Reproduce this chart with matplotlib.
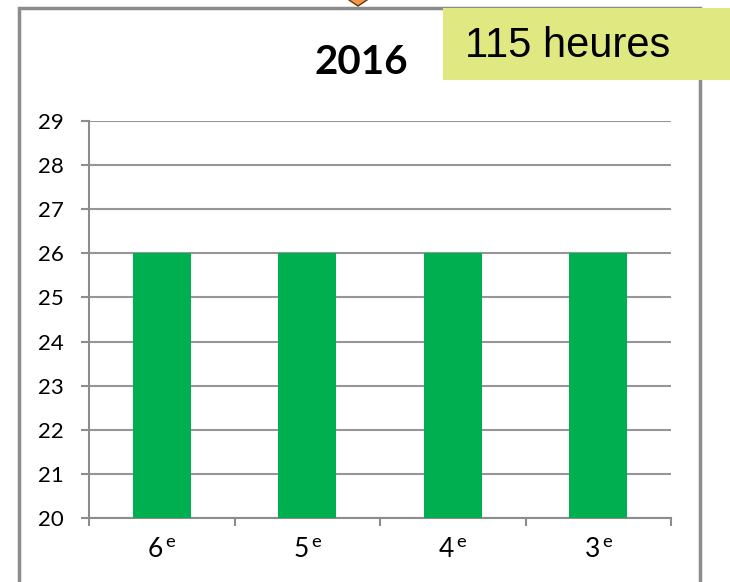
import matplotlib
matplotlib.use("Agg")
import matplotlib.pyplot as plt
from matplotlib.patches import Rectangle, Polygon
import numpy as np

# Data
categories = ["6", "5", "4", "3"]
suffix = "e"
values = [26, 26, 26, 26]
yticks = list(range(20, 30))
title = "2016"
note = "115 heures"

W, H = 730, 582
plt.rcParams['font.family'] = ['Lato', 'DejaVu Sans']
plt.rcParams['mathtext.fontset'] = 'custom'
plt.rcParams['mathtext.rm'] = 'Lato'
plt.rcParams['mathtext.it'] = 'Lato'

fig = plt.figure(figsize=(W / 100, H / 100), dpi=100)

def fx(x):
    return x / W

def fy(y):
    return 1 - y / H

ax = fig.add_axes([fx(89), fy(518), fx(671) - fx(89), fy(121) - fy(518)])

x = np.arange(len(categories))
ax.bar(x, [v - 20 for v in values], bottom=20, width=0.4, color="#00B050", zorder=3)

ax.set_xlim(-0.5, len(categories) - 0.5)
ax.set_ylim(20, 29)
ax.set_yticks(yticks)
ax.set_yticklabels([str(t) for t in yticks], fontsize=16)
ax.yaxis.grid(True, color="#969696", linewidth=1.5, zorder=0)
ax.set_axisbelow(True)

ax.set_xticks(x)
ax.set_xticklabels([r"$%s^{\,\mathrm{%s}}$" % (c, suffix) for c in categories], fontsize=19)
ax.tick_params(axis='x', length=0, pad=14)
ax.set_xticks(np.arange(-0.5, len(categories)), minor=True)
ax.tick_params(axis='x', which='minor', length=6, width=1.5, color="#8c8c8c", direction='out')
ax.tick_params(axis='y', length=6, width=1.5, color="#8c8c8c", pad=12, direction='out')

for s in ['top', 'right']:
    ax.spines[s].set_visible(False)
for s in ['left', 'bottom']:
    ax.spines[s].set_color("#8c8c8c")
    ax.spines[s].set_linewidth(1.5)

# Frame
fig.patches.append(Rectangle((fx(19), fy(640)), fx(700) - fx(19), fy(8) - fy(640),
                             transform=fig.transFigure, fill=False,
                             edgecolor="#8c8c8c", linewidth=2.5, zorder=1))

# Orange arrow tip (decorative)
fig.patches.append(Polygon([[fx(346), fy(-2)], [fx(370), fy(-2)], [fx(358), fy(6)]],
                           closed=True, transform=fig.transFigure,
                           facecolor="#F79646", edgecolor="#5a3a10", linewidth=1, zorder=5))

# Title
fig.text(fx(361), fy(62), title, fontsize=29, fontweight='bold', ha='center', va='center',
         family=['Lato', 'DejaVu Sans'])

# Yellow note box
fig.patches.append(Rectangle((fx(443), fy(80)), fx(735) - fx(443), fy(8) - fy(80),
                             transform=fig.transFigure, facecolor="#E0E882",
                             edgecolor='none', zorder=6))
fig.text(fx(465), fy(46), note, fontsize=30, ha='left', va='center',
         family=['Liberation Sans', 'DejaVu Sans'], zorder=7)

fig.savefig("out.png", dpi=100)
